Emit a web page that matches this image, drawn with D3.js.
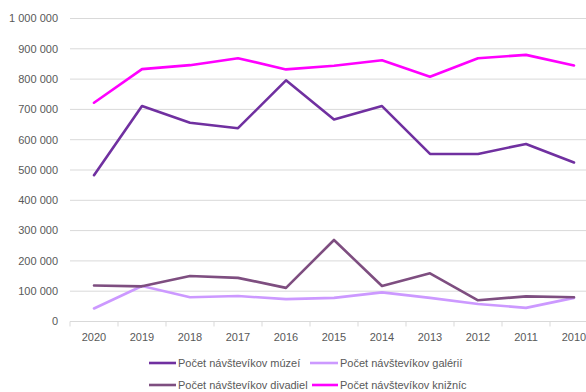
<!DOCTYPE html>
<html>
<head>
<meta charset="utf-8">
<script src="https://cdn.jsdelivr.net/npm/d3@7"></script>
<style>
  html, body { margin: 0; padding: 0; background: #fff; }
  svg { display: block; }
  text { font-family: "Liberation Sans", "DejaVu Sans", sans-serif; fill: #595959; }
</style>
</head>
<body>
<svg id="chart" width="586" height="392"></svg>
<script>
// Years shown on the category axis (newest first)
const years = ["2020", "2019", "2018", "2017", "2016", "2015", "2014", "2013", "2012", "2011", "2010"];

// Visitor counts per institution type
const muzea     = [483000, 711000, 656000, 638000, 796000, 667000, 711000, 553000, 553000, 586000, 525000];
const galerie   = [43000, 117000, 80000, 84000, 74000, 78000, 96000, 78000, 58000, 45000, 78000];
const divadla   = [119000, 116000, 150000, 144000, 111000, 269000, 117000, 159000, 70000, 83000, 80000];
const kniznice  = [722000, 833000, 846000, 869000, 832000, 844000, 862000, 808000, 869000, 880000, 845000];

const yTicks = [0, 100000, 200000, 300000, 400000, 500000, 600000, 700000, 800000, 900000, 1000000];

const series = [
  { name: "Počet návštevíkov múzeí",    values: muzea,    color: "#7030A0" },
  { name: "Počet návštevíkov galérií",  values: galerie,  color: "#CC99FF" },
  { name: "Počet návštevíkov divadiel", values: divadla,  color: "#7E4E80" },
  { name: "Počet návštevíkov knižníc",  values: kniznice, color: "#FF00FF" }
];

const svg = d3.select("#chart");
const plotLeft = 70, plotRight = 598, plotTop = 18.5, plotBottom = 321.5;

const x = d3.scaleBand().domain(years).range([plotLeft, plotRight]);
const y = d3.scaleLinear().domain([0, 1000000]).range([plotBottom, plotTop]);

const fmt = v => d3.format(",")(v).replace(/,/g, " ");

// Horizontal gridlines
svg.append("g")
  .selectAll("line")
  .data(yTicks.filter(d => d > 0))
  .join("line")
  .attr("x1", plotLeft).attr("x2", plotRight)
  .attr("y1", d => y(d)).attr("y2", d => y(d))
  .attr("stroke", "#d9d9d9").attr("stroke-width", 1);

// Y axis labels
svg.append("g")
  .selectAll("text")
  .data(yTicks)
  .join("text")
  .attr("x", 58)
  .attr("y", d => y(d))
  .attr("dy", "0.35em")
  .attr("text-anchor", "end")
  .attr("font-size", "11px")
  .text(fmt);

// X axis with tick marks between categories
const xAxis = svg.append("g").attr("transform", `translate(0,${plotBottom})`);
xAxis.append("line")
  .attr("x1", plotLeft).attr("x2", plotRight)
  .attr("stroke", "#d9d9d9").attr("stroke-width", 1);
xAxis.selectAll("line.tick")
  .data(years.concat([null]))
  .join("line")
  .attr("class", "tick")
  .attr("x1", (d, i) => plotLeft + i * x.step())
  .attr("x2", (d, i) => plotLeft + i * x.step())
  .attr("y1", 0).attr("y2", 5)
  .attr("stroke", "#d9d9d9");
xAxis.selectAll("text")
  .data(years)
  .join("text")
  .attr("x", d => x(d) + x.bandwidth() / 2)
  .attr("y", 19)
  .attr("text-anchor", "middle")
  .attr("font-size", "11px")
  .text(d => d);

// Series lines
const line = d3.line()
  .x((d, i) => x(years[i]) + x.bandwidth() / 2)
  .y(d => y(d));

svg.append("g")
  .selectAll("path")
  .data(series)
  .join("path")
  .attr("d", d => line(d.values))
  .attr("fill", "none")
  .attr("stroke", d => d.color)
  .attr("stroke-width", 2.6)
  .attr("stroke-linejoin", "round")
  .attr("stroke-linecap", "round");

// Legend, two columns by two rows
const legendPos = [
  { lx: 149, tx: 178, y: 363 },
  { lx: 310, tx: 340, y: 363 },
  { lx: 149, tx: 178, y: 385 },
  { lx: 312, tx: 340, y: 385 }
];
const legend = svg.append("g")
  .selectAll("g")
  .data(series)
  .join("g");
legend.append("line")
  .attr("x1", (d, i) => legendPos[i].lx)
  .attr("x2", (d, i) => legendPos[i].tx - 2)
  .attr("y1", (d, i) => legendPos[i].y)
  .attr("y2", (d, i) => legendPos[i].y)
  .attr("stroke", d => d.color)
  .attr("stroke-width", 2.6);
legend.append("text")
  .attr("x", (d, i) => legendPos[i].tx)
  .attr("y", (d, i) => legendPos[i].y)
  .attr("dy", "0.35em")
  .attr("font-size", "11px")
  .text(d => d.name);
</script>
</body>
</html>
